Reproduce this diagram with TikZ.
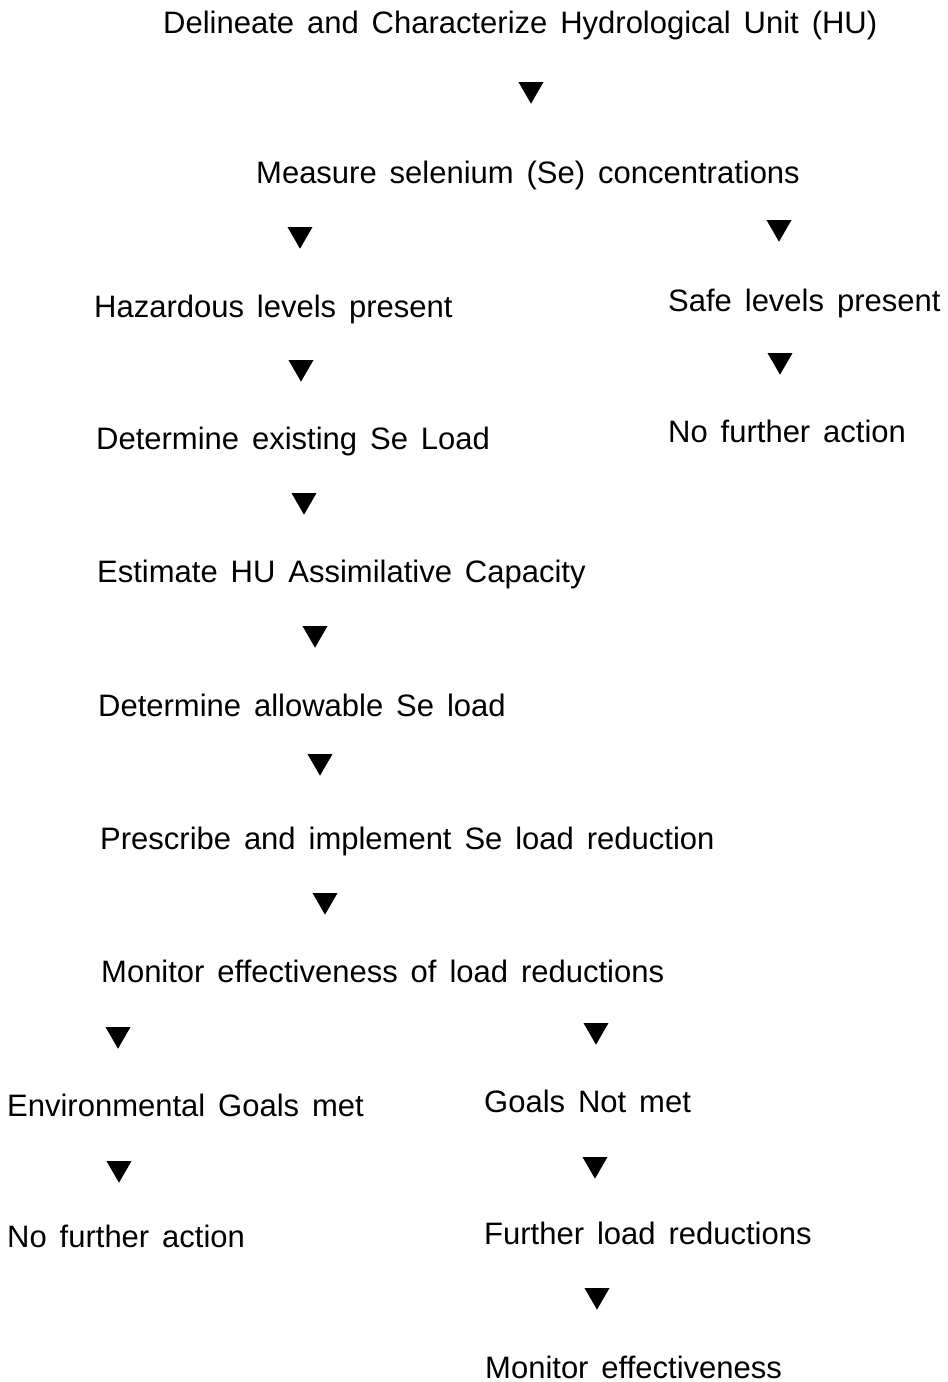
\documentclass[tikz,border=0pt]{standalone}
\usepackage{fontspec}
\setmainfont[WordSpace=1.5]{Liberation Sans}
\usetikzlibrary{shapes.geometric}

\tikzset{
  stage/.style={anchor=base west, inner sep=0pt, font=\fontsize{31}{37}\selectfont},
  drop/.style={regular polygon, regular polygon sides=3, shape border rotate=180,
    fill=black, inner sep=0pt, outer sep=0pt, minimum size=28.9pt, anchor=north}
}

\begin{document}
\begin{tikzpicture}[x=1pt,y=-1pt]
  \useasboundingbox (0,0) rectangle (948,1382);
  % main column
  \node[stage] (hu) at (163,33) {Delineate and Characterize Hydrological Unit (HU)};
  \node[drop] (d1) at (531,82) {};
  \node[stage] (measure) at (256,183) {Measure selenium (Se) concentrations};
  \node[drop] (d2) at (300,227) {};
  \node[drop] (d3) at (779,220) {};
  \node[stage] (hazard) at (94,317) {Hazardous levels present};
  \node[stage] (safe) at (668,311) {Safe levels present};
  \node[drop] (d4) at (301,360) {};
  \node[drop] (d5) at (780,353) {};
  \node[stage] (existing) at (96,449) {Determine existing Se Load};
  \node[stage] (noactR) at (668,442) {No further action};
  \node[drop] (d6) at (304,493) {};
  \node[stage] (capacity) at (97,582) {Estimate HU Assimilative Capacity};
  \node[drop] (d7) at (315,626) {};
  \node[stage] (allow) at (98,716) {Determine allowable Se load};
  \node[drop] (d8) at (320,754) {};
  \node[stage] (reduce) at (100,849) {Prescribe and implement Se load reduction};
  \node[drop] (d9) at (325,893) {};
  \node[stage] (monitor) at (101,982) {Monitor effectiveness of load reductions};
  % split at the bottom
  \node[drop] (d10) at (118,1027) {};
  \node[drop] (d11) at (596,1023) {};
  \node[stage] (met) at (7,1116) {Environmental Goals met};
  \node[stage] (notmet) at (484,1112) {Goals Not met};
  \node[drop] (d12) at (119,1161) {};
  \node[drop] (d13) at (595,1157) {};
  \node[stage] (noactL) at (7,1247) {No further action};
  \node[stage] (further) at (484,1244) {Further load reductions};
  \node[drop] (d14) at (597,1288) {};
  \node[stage] (monitor2) at (485,1378) {Monitor effectiveness};
\end{tikzpicture}
\end{document}
